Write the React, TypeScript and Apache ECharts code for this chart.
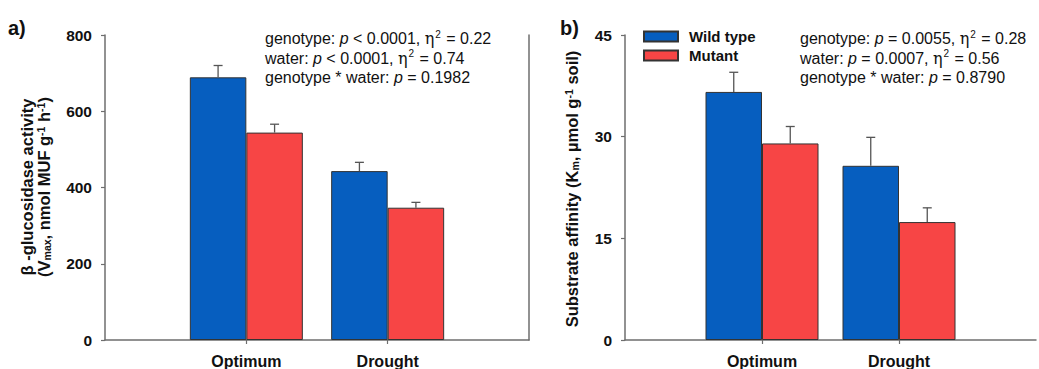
import { useEffect, useRef } from "react";
import * as echarts from "echarts";

// ---- data ----
const categories = ["Optimum", "Drought"];
const seriesNames = ["Wild type", "Mutant"];

const vmaxWild = [689, 443];
const vmaxWildErr = [31, 23];
const vmaxMutant = [544, 347];
const vmaxMutantErr = [22, 14];

const kmWild = [36.6, 25.7];
const kmWildErr = [2.9, 4.2];
const kmMutant = [29.0, 17.4];
const kmMutantErr = [2.5, 2.1];

const vmaxTicks = [0, 200, 400, 600, 800];
const kmTicks = [0, 15, 30, 45];

const statsA = [
  "genotype: {i|p} < 0.0001, {g|η}{sup|2} = 0.22",
  "water: {i|p} < 0.0001, {g|η}{sup|2} = 0.74",
  "genotype * water: {i|p} = 0.1982",
];
const statsB = [
  "genotype: {i|p} = 0.0055, {g|η}{sup|2} = 0.28",
  "water: {i|p} = 0.0007, {g|η}{sup|2} = 0.56",
  "genotype * water: {i|p} = 0.8790",
];

// ---- styles ----
const FONT = "'Liberation Sans', Arial, Helvetica, sans-serif";
const BLUE = "#065ebf";
const RED = "#f74545";
const AXIS = "#6e6e6e";
const BAR_W = 56.5;

const axisCats = ["", ...categories, ""];

function App() {
  const ref = useRef<HTMLDivElement>(null);
  useEffect(() => {
    if (!ref.current) return;
    const chart = echarts.init(ref.current, null, { renderer: "svg" });

    const errRender = (offset: number) => (params: any, api: any) => {
      const x = api.value(0);
      const v = api.value(1);
      const e = api.value(2);
      const p0 = api.coord([x, v]);
      const p1 = api.coord([x, v + e]);
      const cx = p0[0] + offset;
      const st = { stroke: "#555", lineWidth: 1.3 };
      return {
        type: "group",
        children: [
          { type: "line", shape: { x1: cx, y1: p0[1], x2: cx, y2: p1[1] }, style: st },
          { type: "line", shape: { x1: cx - 4.5, y1: p1[1], x2: cx + 4.5, y2: p1[1] }, style: st },
        ],
      };
    };

    const xAxisCfg = (gridIndex: number) => ({
      type: "category",
      gridIndex,
      data: axisCats,
      boundaryGap: false,
      axisLine: { show: true, lineStyle: { color: AXIS, width: 1.5 } },
      axisTick: {
        show: true,
        length: 4,
        interval: (i: number) => i > 0 && i < axisCats.length - 1,
        lineStyle: { color: AXIS, width: 1.2 },
      },
      axisLabel: {
        interval: 0,
        margin: 13,
        fontFamily: FONT,
        fontWeight: "bold",
        fontSize: 16,
        color: "#111",
      },
      splitLine: { show: false },
    });

    const yAxisCfg = (gridIndex: number, ticks: number[]) => ({
      type: "value",
      gridIndex,
      min: ticks[0],
      max: ticks[ticks.length - 1],
      interval: ticks[1] - ticks[0],
      axisLine: { show: true, lineStyle: { color: AXIS, width: 1.5 } },
      axisTick: { show: true, length: 4, lineStyle: { color: AXIS, width: 1.2 } },
      axisLabel: {
        margin: 13,
        fontFamily: FONT,
        fontWeight: "bold",
        fontSize: 15.5,
        color: "#111",
      },
      splitLine: { show: false },
    });

    const barSeries = (name: string, color: string, values: number[], xi: number, yi: number) => ({
      type: "bar",
      name,
      xAxisIndex: xi,
      yAxisIndex: yi,
      barWidth: BAR_W,
      barGap: "0%",
      data: categories.map((c, i) => [c, values[i]]),
      itemStyle: { color, borderColor: "#333", borderWidth: 1 },
      z: 2,
    });

    const errSeries = (values: number[], errs: number[], offset: number, xi: number, yi: number) => ({
      type: "custom",
      xAxisIndex: xi,
      yAxisIndex: yi,
      silent: true,
      z: 3,
      renderItem: errRender(offset),
      encode: { x: 0, y: 1 },
      data: categories.map((c, i) => [c, values[i], errs[i]]),
    });

    const statRich = {
      t: { fontSize: 16, fontFamily: FONT, fill: "#111", lineHeight: 19.5 },
      i: { fontSize: 16, fontFamily: FONT, fontStyle: "italic", fill: "#111", lineHeight: 19.5 },
      g: { fontSize: 16, fontFamily: "'DejaVu Serif', 'Liberation Serif', serif", fill: "#111", lineHeight: 19.5 },
      sup: { fontSize: 10, fontFamily: FONT, fill: "#111", verticalAlign: "top", lineHeight: 19.5, padding: [0, 1, 0, 1] },
    };

    const statText = (lines: string[], x: number) => ({
      type: "text",
      x,
      y: 29,
      style: {
        text: lines.map((l) => l.replace(/(^|\})([^{}]+)(?=\{|$)/g, (m, a, b) => `${a}{t|${b}}`)).join("\n"),
        rich: statRich,
        align: "left",
        verticalAlign: "top",
        fill: "#111",
        font: `16px ${FONT}`,
      },
    });

    const titleRich = {
      t: { fontSize: 16.5, fontWeight: "bold", fontFamily: FONT, fill: "#111", lineHeight: 17 },
      sub: { fontSize: 10.5, fontWeight: "bold", fontFamily: FONT, fill: "#111", verticalAlign: "bottom", lineHeight: 17 },
      sup: { fontSize: 10.5, fontWeight: "bold", fontFamily: FONT, fill: "#111", verticalAlign: "top", lineHeight: 17 },
    };

    chart.setOption({
      animation: false,
      backgroundColor: "#fff",
      grid: [
        { left: 105, top: 35, width: 424, height: 305 },
        { left: 625, top: 35, width: 424, height: 305 },
      ],
      xAxis: [xAxisCfg(0), xAxisCfg(1)],
      yAxis: [
        yAxisCfg(0, vmaxTicks),
        {
          type: "value",
          gridIndex: 0,
          position: "right",
          min: vmaxTicks[0],
          max: vmaxTicks[vmaxTicks.length - 1],
          axisLine: { show: true, lineStyle: { color: AXIS, width: 1.5 } },
          axisTick: { show: false },
          axisLabel: { show: false },
          splitLine: { show: false },
        },
        yAxisCfg(1, kmTicks),
      ],
      legend: {
        data: seriesNames,
        orient: "vertical",
        left: 643,
        top: 29,
        padding: 0,
        itemWidth: 34,
        itemHeight: 10,
        itemGap: 4,
        icon: "rect",
        selectedMode: false,
        textStyle: {
          fontFamily: FONT,
          fontWeight: "bold",
          fontSize: 15,
          lineHeight: 15,
          color: "#111",
          padding: [0, 0, 0, 6],
        },
      },
      series: [
        barSeries(seriesNames[0], BLUE, vmaxWild, 0, 0),
        barSeries(seriesNames[1], RED, vmaxMutant, 0, 0),
        errSeries(vmaxWild, vmaxWildErr, -BAR_W / 2, 0, 0),
        errSeries(vmaxMutant, vmaxMutantErr, BAR_W / 2, 0, 0),
        barSeries(seriesNames[0], BLUE, kmWild, 1, 2),
        barSeries(seriesNames[1], RED, kmMutant, 1, 2),
        errSeries(kmWild, kmWildErr, -BAR_W / 2, 1, 2),
        errSeries(kmMutant, kmMutantErr, BAR_W / 2, 1, 2),
      ],
      graphic: [
        {
          type: "text",
          x: 8,
          y: 18,
          style: { text: "a)", font: `bold 20px ${FONT}`, fill: "#111" },
        },
        {
          type: "text",
          x: 560,
          y: 18,
          style: { text: "b)", font: `bold 20px ${FONT}`, fill: "#111" },
        },
        statText(statsA, 265),
        statText(statsB, 800),
        {
          type: "text",
          x: 35,
          y: 187,
          rotation: Math.PI / 2,
          style: {
            text:
              "{t|β -glucosidase activity}\n{t|(V}{sub|max}{t|, nmol MUF g}{sup|-1}{t| h}{sup|-1}{t|)}",
            rich: titleRich,
            align: "center",
            verticalAlign: "middle",
            fill: "#111",
          },
        },
        {
          type: "text",
          x: 572,
          y: 189,
          rotation: Math.PI / 2,
          style: {
            text: "{t|Substrate affinity (K}{sub|m}{t|, µmol g}{sup|-1}{t| soil)}",
            rich: titleRich,
            align: "center",
            verticalAlign: "middle",
            fill: "#111",
          },
        },
      ],
    });

    return () => chart.dispose();
  }, []);

  return (
    <div
      ref={ref}
      style={{ position: "fixed", left: 0, top: 0, width: 1039, height: 369, background: "#fff" }}
    />
  );
}

export default App;
